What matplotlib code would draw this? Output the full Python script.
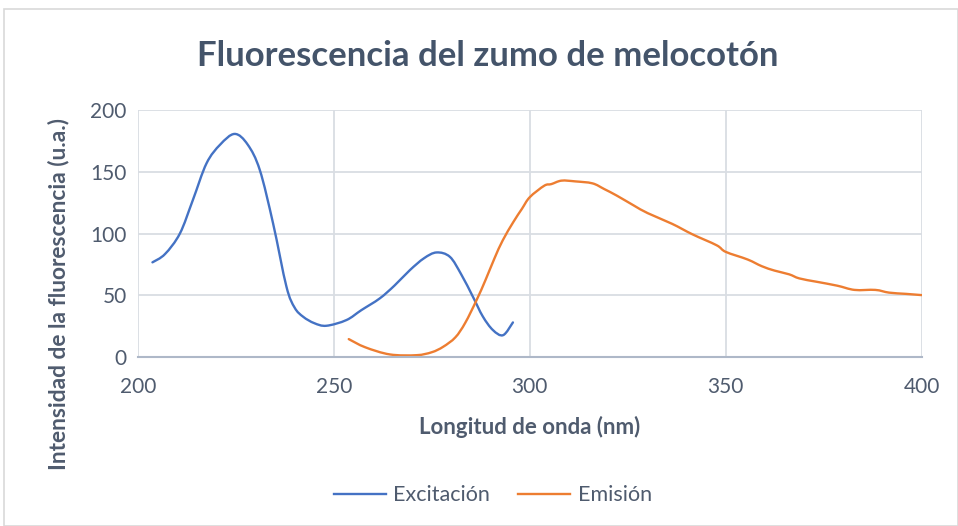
import numpy as np
import matplotlib
matplotlib.use("Agg")
from matplotlib import pyplot as plt
from matplotlib.patches import Rectangle, PathPatch
from matplotlib.path import Path
from matplotlib.lines import Line2D

# Values
exc_x = [203.7, 206.9, 210.7, 214, 217.5, 221, 224.7, 228, 231.1, 234.5, 237.9, 240,
         242.2, 245, 248.1, 253.2, 257, 261.7, 265.5, 269.4, 273, 276.2, 279.6, 282.5,
         285.5, 288, 290.6, 293.2, 295.7]
exc_y = [76.7, 83.4, 100, 127, 156.8, 172, 180.6, 172, 151.4, 108, 57, 40,
         32.6, 27.5, 25.4, 30, 38, 47.5, 58, 70.4, 80, 84.7, 81.2, 67,
         48.8, 33, 21.9, 17.8, 28.1]

emi_x = [253.8, 258, 264.3, 271.1, 275, 277.9, 281, 283.5, 286.4, 288.7, 291, 293.1,
         295.8, 298, 300, 303.7, 305.5, 308.1, 311.6, 316, 319, 322.2, 326.6, 330.1,
         336.3, 341.5, 347.7, 350, 355.6, 359.2, 362.5, 366.2, 368.8, 373.2, 378.5,
         382.9, 388.2, 391.7, 396, 400]
emi_y = [14.6, 8, 2.2, 1.6, 4, 8.4, 16, 27.6, 46, 62.4, 80, 94.5,
         109.3, 120, 129.4, 138.7, 140, 142.8, 142.2, 140.6, 136, 130.7, 122.6, 116.5,
         107.9, 99.4, 90.5, 85.2, 79, 73.6, 70, 67, 63.7, 61, 57.8,
         54.4, 54.4, 52.2, 51.2, 50.2]

x_ticks = [200, 250, 300, 350, 400]
y_ticks = [0, 50, 100, 150, 200]


def smooth_path(xs, ys):
    # Excel-like smoothed line: cubic Bezier segments through the points
    p = np.column_stack([xs, ys])
    verts = [p[0]]
    codes = [Path.MOVETO]
    n = len(p)
    for i in range(n - 1):
        p0 = p[i - 1] if i > 0 else p[i]
        p3 = p[i + 2] if i + 2 < n else p[i + 1]
        c1 = p[i] + (p[i + 1] - p0) / 6
        c2 = p[i + 1] - (p3 - p[i]) / 6
        verts += [c1, c2, p[i + 1]]
        codes += [Path.CURVE4] * 3
    return Path(verts, codes)


plt.rcParams['font.family'] = ['Lato', 'DejaVu Sans']

text_col = '#4F5B6E'
title_col = '#44546A'
grid_col = '#D9DDE3'
blue = '#4472C4'
orange = '#ED7D31'

fig = plt.figure(figsize=(9.58, 5.26), dpi=100)
ax = fig.add_axes([0.144, 0.321, 0.818, 0.470])

# outer chart border
fig.patches.append(Rectangle((0.004, 0.0), 0.996, 0.983, transform=fig.transFigure,
                             fill=False, edgecolor='#D9D9D9', linewidth=1.2))

for xs, ys, col in [(exc_x, exc_y, blue), (emi_x, emi_y, orange)]:
    ax.add_patch(PathPatch(smooth_path(xs, ys), facecolor='none', edgecolor=col,
                           linewidth=1.7, capstyle='round', joinstyle='round'))

ax.set_xlim(200, 400)
ax.set_ylim(0, 200)
ax.set_xticks(x_ticks)
ax.set_yticks(y_ticks)
ax.grid(True, color=grid_col, linewidth=1.3)
ax.set_axisbelow(True)
for side in ['top', 'right', 'left']:
    ax.spines[side].set_visible(False)
ax.spines['bottom'].set_color('#AEB8C8')
ax.spines['bottom'].set_linewidth(1.5)
ax.tick_params(length=0, labelsize=15, labelcolor=text_col, pad=8)
ax.tick_params(axis='x', pad=14)

ax.set_xlabel('Longitud de onda (nm)', fontsize=16, fontweight='bold', color=text_col, labelpad=14)
fig.text(0.061, 0.441, 'Intensidad de la fluorescencia (u.a.)', rotation=90,
         ha='center', va='center', fontsize=16.4, fontweight='bold', color=text_col)

fig.text(0.509, 0.893, 'Fluorescencia del zumo de melocotón', ha='center', va='center',
         fontsize=25, fontweight='bold', color=title_col)

handles = [Line2D([], [], color=blue, linewidth=1.7),
           Line2D([], [], color=orange, linewidth=1.7)]
leg = fig.legend(handles, ['Excitación', 'Emisión'], loc='center',
                 bbox_to_anchor=(0.5146, 0.058), ncol=2, frameon=False,
                 fontsize=15.5, handlelength=2.4, columnspacing=1.3, handletextpad=0.35)
for t in leg.get_texts():
    t.set_color(text_col)

fig.savefig('out.png', dpi=100)
